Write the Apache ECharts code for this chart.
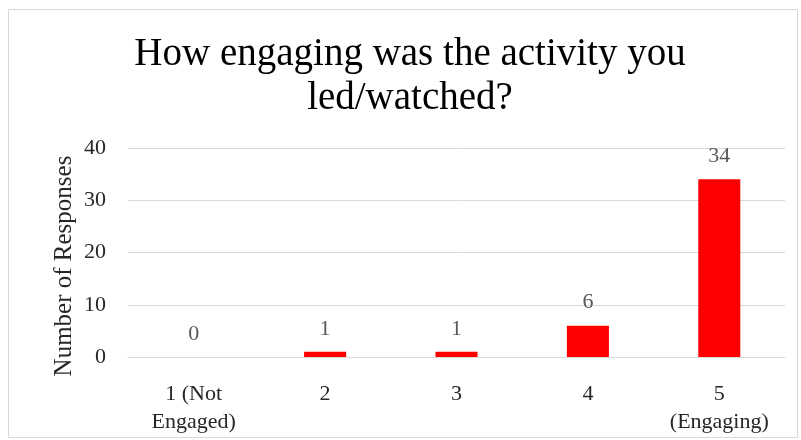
<!DOCTYPE html>
<html>
<head>
<meta charset="utf-8">
<script src="https://cdn.jsdelivr.net/npm/echarts@6/dist/echarts.min.js"></script>
<style>
  html, body { margin: 0; padding: 0; background: #ffffff; }
  #chart { width: 801px; height: 440px; }
</style>
</head>
<body>
<div id="chart"></div>
<script>
const categories = ['1 (Not\nEngaged)', '2', '3', '4', '5\n(Engaging)'];
const responses = [0, 1, 1, 6, 34];
const yTicks = { min: 0, max: 40, interval: 10 };
const yAxisTitle = 'Number of Responses';

const serif = '"Liberation Serif", "DejaVu Serif", serif';
const chart = echarts.init(document.getElementById('chart'));

chart.setOption({
  animation: false,
  backgroundColor: '#ffffff',
  graphic: [
    {
      type: 'rect',
      shape: { x: 8.5, y: 9.5, width: 789, height: 428 },
      style: { fill: 'none', stroke: '#d9d9d9', lineWidth: 1 },
      silent: true
    },
    {
      // vertical axis title, rotated to read bottom-to-top
      type: 'text',
      x: 64,
      y: 266,
      rotation: Math.PI / 2,
      style: {
        text: yAxisTitle,
        fontFamily: serif,
        fontSize: 25,
        fill: '#262626',
        align: 'center',
        verticalAlign: 'middle'
      },
      silent: true
    }
  ],
  title: {
    text: 'How engaging was the activity you\nled/watched?',
    left: 405,
    textAlign: 'center',
    top: 28,
    textStyle: {
      fontFamily: serif,
      fontSize: 39,
      fontWeight: 'normal',
      color: '#000000',
      lineHeight: 44
    }
  },
  grid: { left: 128, right: 16, top: 148, bottom: 83, containLabel: false },
  xAxis: {
    type: 'category',
    data: categories,
    axisLine: { show: true, lineStyle: { color: '#d9d9d9', width: 1 } },
    axisTick: { show: false },
    axisLabel: {
      fontFamily: serif,
      fontSize: 22,
      color: '#262626',
      lineHeight: 28,
      margin: 23,
      interval: 0
    }
  },
  yAxis: {
    type: 'value',
    min: yTicks.min,
    max: yTicks.max,
    interval: yTicks.interval,
    axisLine: { show: false },
    axisTick: { show: false },
    splitLine: { lineStyle: { color: '#d9d9d9', width: 1 } },
    axisLabel: { fontFamily: serif, fontSize: 22, color: '#262626', margin: 22 }
  },
  series: [{
    type: 'bar',
    data: responses,
    barWidth: '32%',
    itemStyle: { color: '#ff0000' },
    label: {
      show: true,
      position: 'top',
      distance: 12,
      fontFamily: serif,
      fontSize: 22,
      color: '#595959'
    }
  }]
});
</script>
</body>
</html>
